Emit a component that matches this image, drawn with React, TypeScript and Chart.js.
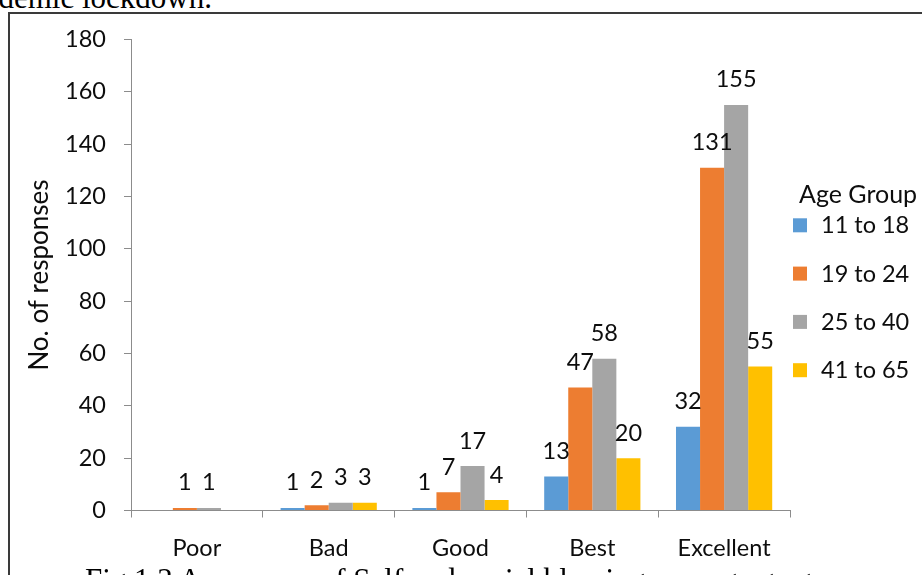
import { useEffect, useRef } from "react";
import { Chart, registerables } from "chart.js";

Chart.register(...registerables);

// Rating categories along the x axis
const categories = ["Poor", "Bad", "Good", "Best", "Excellent"];

// Responses per age group
const ageGroups = ["11 to 18", "19 to 24", "25 to 40", "41 to 65"];
const age11to18 = [0, 1, 1, 13, 32];
const age19to24 = [1, 2, 7, 47, 131];
const age25to40 = [1, 3, 17, 58, 155];
const age41to65 = [0, 3, 4, 20, 55];
const seriesValues = [age11to18, age19to24, age25to40, age41to65];
const seriesColors = ["#5B9BD5", "#ED7D31", "#A5A5A5", "#FFC000"];

// Value axis
const yMin = 0;
const yMax = 180;
const yStep = 20;

const legendTitle = "Age Group";
const yTitle = "No. of responses";
const headingTail = "pandemic lockdown.";
const caption = "Fig 1.3 Awareness of Self and social blaming among age groups";

const FONT = "Lato, 'Open Sans', sans-serif";
const TEXT = "#0d0d0d";
const AXIS = "#8c8c8c";
const SIZE = 23.5;

// Writes each non-zero value above its bar
const valueLabels = {
  id: "valueLabels",
  afterDatasetsDraw(chart: any) {
    const { ctx } = chart;
    ctx.save();
    ctx.font = `${SIZE}px ${FONT}`;
    ctx.fillStyle = TEXT;
    ctx.textAlign = "center";
    ctx.textBaseline = "alphabetic";
    chart.data.datasets.forEach((ds: any, i: number) => {
      const meta = chart.getDatasetMeta(i);
      meta.data.forEach((bar: any, j: number) => {
        const v = ds.data[j];
        if (!v) return;
        ctx.fillText(String(v), bar.x, bar.y - 17.5);
      });
    });
    ctx.restore();
  },
};

// Legend column to the right of the plot with its heading
const sideLegend = {
  id: "sideLegend",
  afterDraw(chart: any) {
    const { ctx, chartArea } = chart;
    const x0 = chartArea.right + 3;
    ctx.save();
    ctx.textAlign = "left";
    ctx.textBaseline = "alphabetic";
    ctx.fillStyle = TEXT;
    ctx.font = `25px ${FONT}`;
    ctx.fillText(legendTitle, x0 + 6, 203);
    ctx.font = `${SIZE}px ${FONT}`;
    chart.data.datasets.forEach((ds: any, i: number) => {
      const base = 233.3 + i * 48.3;
      ctx.fillStyle = ds.backgroundColor;
      ctx.fillRect(x0, base - 15, 14, 14);
      ctx.fillStyle = TEXT;
      ctx.fillText(ds.label, x0 + 28, base);
    });
    ctx.restore();
  },
};

function ResponsesChart() {
  const ref = useRef<HTMLCanvasElement | null>(null);

  useEffect(() => {
    if (!ref.current) return;
    const chart = new Chart(ref.current, {
      type: "bar",
      data: {
        labels: categories,
        datasets: ageGroups.map((label, i) => ({
          label,
          data: seriesValues[i],
          backgroundColor: seriesColors[i],
          borderWidth: 0,
          categoryPercentage: 0.73,
          barPercentage: 1,
        })),
      },
      options: {
        animation: false,
        responsive: false,
        maintainAspectRatio: false,
        layout: { padding: { top: 39.5, right: 132, bottom: 0, left: 0 } },
        plugins: {
          legend: { display: false },
          tooltip: { enabled: false },
          title: { display: false },
        },
        scales: {
          x: {
            offset: true,
            grid: {
              offset: true,
              drawOnChartArea: false,
              drawTicks: true,
              tickLength: 7,
              color: AXIS,
            },
            border: { display: true, color: AXIS, width: 1 },
            ticks: {
              color: TEXT,
              font: { family: FONT, size: SIZE },
              padding: 17,
              maxRotation: 0,
              autoSkip: false,
            },
            afterFit(scale: any) {
              scale.height = 64.5;
            },
          },
          y: {
            min: yMin,
            max: yMax,
            grid: {
              drawOnChartArea: false,
              drawTicks: true,
              tickLength: 7,
              color: AXIS,
            },
            border: { display: true, color: AXIS, width: 1 },
            ticks: {
              stepSize: yStep,
              color: TEXT,
              font: { family: FONT, size: SIZE },
              padding: 18,
            },
            title: {
              display: true,
              text: yTitle,
              color: TEXT,
              font: { family: FONT, size: 26 },
              padding: { top: 24, bottom: 0 },
            },
            afterFit(scale: any) {
              scale.width = 131;
            },
          },
        },
      },
      plugins: [valueLabels, sideLegend],
    });
    return () => chart.destroy();
  }, []);

  return (
    <canvas
      ref={ref}
      width={922}
      height={575}
      style={{ position: "absolute", left: 0, top: 0, width: 922, height: 575 }}
    />
  );
}

export default function App() {
  return (
    <div
      style={{
        position: "absolute",
        left: 0,
        top: 0,
        width: 922,
        height: 575,
        overflow: "hidden",
        background: "#fff",
      }}
    >
      <div
        style={{
          position: "absolute",
          right: 922 - 212,
          top: -18,
          font: "31px 'Liberation Serif', 'Times New Roman', serif",
          lineHeight: "31px",
          whiteSpace: "nowrap",
          color: "#000",
        }}
      >
        {headingTail}
      </div>
      <div
        style={{
          position: "absolute",
          left: 8,
          top: 12,
          width: 1000,
          height: 1000,
          border: "2px solid #3a3a3a",
        }}
      />
      <ResponsesChart />
      <div
        style={{
          position: "absolute",
          left: 85,
          top: 563.5,
          font: "31px 'Liberation Serif', 'Times New Roman', serif",
          lineHeight: "31px",
          whiteSpace: "nowrap",
          color: "#000",
        }}
      >
        {caption}
      </div>
    </div>
  );
}
